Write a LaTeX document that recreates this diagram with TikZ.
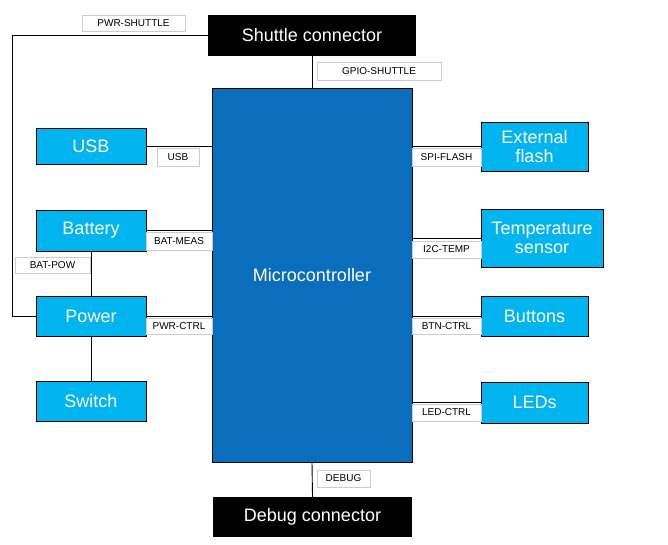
\documentclass[tikz,border=0pt]{standalone}
\usepackage{fontspec}
\setmainfont{Liberation Sans}
\begin{document}
\begin{tikzpicture}[x=1pt,y=-1pt,
  lb/.style={draw=black,line width=1pt,fill=lblue,text=white,font=\fontsize{18}{19}\selectfont,align=center,inner sep=0},
  bk/.style={fill=black,text=white,font=\fontsize{18}{20}\selectfont,inner sep=0},
  tag/.style={draw=black!20,line width=0.5pt,fill=white,font=\fontsize{10}{12}\selectfont,inner sep=0},
  ln/.style={line width=0.9pt}]
\definecolor{lblue}{HTML}{00B4EF}
\definecolor{dblue}{HTML}{0A6EBD}
\useasboundingbox (0,0) rectangle (668,544);
\path[fill=white] (0,0) rectangle (668,544);
\coordinate (c1) at (12,35.5);
\coordinate (c2) at (12,316);
\node[bk,minimum width=208,minimum height=41] (sh) at (312,35.5) {Shuttle connector};
\node[draw=black,line width=1pt,fill=dblue,text=white,font=\fontsize{18}{20}\selectfont,minimum width=200,minimum height=374,inner sep=0] (mc) at (312,275) {Microcontroller};
\node[bk,minimum width=199,minimum height=40] (db) at (312.5,517) {Debug connector};
\node[lb,minimum width=110,minimum height=36] (usb) at (91,146) {USB};
\node[lb,minimum width=110,minimum height=41] (bat) at (91,230.5) {Battery};
\node[lb,minimum width=110,minimum height=40] (pow) at (91,316) {Power};
\node[lb,minimum width=110,minimum height=40] (sw) at (91,401) {Switch};
\node[lb,minimum width=107,minimum height=49] (fl) at (534.5,146.5) {External\\flash};
\node[lb,minimum width=122,minimum height=58] (ts) at (542,238) {Temperature\\sensor};
\node[lb,minimum width=107,minimum height=40] (bt) at (534.5,316) {Buttons};
\node[lb,minimum width=107,minimum height=41] (le) at (534.5,402.5) {LEDs};
% tags
\node[tag,minimum width=103,minimum height=16] at (133.5,23) {PWR-SHUTTLE};
\node[tag,minimum width=124,minimum height=18] at (379,71) {GPIO-SHUTTLE};
\node[tag,minimum width=42,minimum height=18] at (178,157) {USB};
\node[tag,minimum width=66,minimum height=18] at (179,241) {BAT-MEAS};
\node[tag,minimum width=75,minimum height=16] at (52.5,265) {BAT-POW};
\node[tag,minimum width=66,minimum height=16] at (179,326) {PWR-CTRL};
\node[tag,minimum width=69,minimum height=18] at (446.5,157) {SPI-FLASH};
\node[tag,minimum width=69,minimum height=17] at (446.5,249.5) {I2C-TEMP};
\node[tag,minimum width=69,minimum height=16] at (446.5,326) {BTN-CTRL};
\node[tag,minimum width=69,minimum height=17] at (446.5,412.5) {LED-CTRL};
\node[tag,minimum width=53,minimum height=17] at (343.5,478.5) {DEBUG};
% lines
\draw[ln] (sh.west) -- (c1) -- (c2) -- (pow.west);
\draw[ln] (sh.south) -- (mc.north);
\draw[ln] (mc.south) -- (db.north);
\draw[ln] (usb.east) -- (usb.east -| mc.west);
\draw[ln] (bat.east) -- (bat.east -| mc.west);
\draw[ln] (pow.east) -- (pow.east -| mc.west);
\draw[ln] (bat.south) -- (pow.north);
\draw[ln] (pow.south) -- (sw.north);
\draw[ln] (fl.west -| mc.east) -- (fl.west);
\draw[ln] (ts.west -| mc.east) -- (ts.west);
\draw[ln] (bt.west -| mc.east) -- (bt.west);
\draw[ln] (le.west -| mc.east) -- (le.west);
\end{tikzpicture}
\end{document}
